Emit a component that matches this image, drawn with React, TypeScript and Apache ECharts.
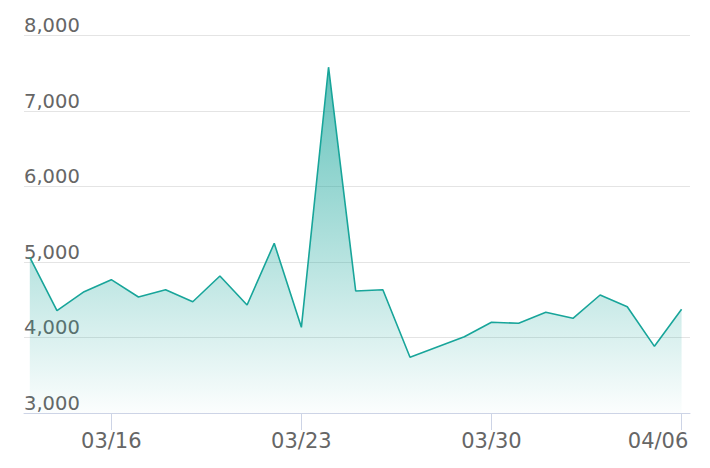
import React, { useEffect, useRef } from "react";
import * as echarts from "echarts";

const dates: string[] = [
  "03/13", "03/14", "03/15", "03/16", "03/17", "03/18", "03/19", "03/20",
  "03/21", "03/22", "03/23", "03/24", "03/25", "03/26", "03/27", "03/28",
  "03/29", "03/30", "03/31", "04/01", "04/02", "04/03", "04/04", "04/05", "04/06",
];

const values: number[] = [
  5060, 4355, 4607, 4766, 4536, 4633, 4474, 4815,
  4430, 5248, 4135, 7580, 4616, 4633, 3738, 3874,
  4010, 4201, 4188, 4334, 4254, 4563, 4408, 3883, 4373,
];

const labelDates: string[] = ["03/16", "03/23", "03/30", "04/06"];

const yMin = 3000;
const yMax = 8000;
const yInterval = 1000;

export default function App() {
  const ref = useRef<HTMLDivElement>(null);

  useEffect(() => {
    if (!ref.current) return;
    const chart = echarts.init(ref.current, null, { renderer: "svg" });
    const tickIdx = labelDates.map((d) => dates.indexOf(d));
    const lastIdx = tickIdx[tickIdx.length - 1];
    chart.setOption({
      animation: false,
      grid: {
        left: 24,
        right: 20,
        top: 35.5,
        bottom: 55,
        containLabel: false,
        outerBoundsMode: "none",
      },
      xAxis: {
        type: "value",
        min: -0.214,
        max: 24.31,
        splitLine: { show: false },
        axisLine: { show: true, lineStyle: { color: "#cdd4e6", width: 1 } },
        axisTick: {
          show: true,
          length: 17,
          customValues: tickIdx,
          lineStyle: { color: "#cdd4e6", width: 1 },
        },
        axisLabel: {
          customValues: tickIdx,
          formatter: (v: number) => {
            const i = Math.round(v);
            const s = dates[i] ?? "";
            return i === lastIdx ? `{last|${s}}` : s;
          },
          color: "#666",
          fontFamily: "DejaVu Sans",
          fontSize: 21,
          margin: 17,
          hideOverlap: false,
          rich: {
            last: {
              color: "#666",
              fontFamily: "DejaVu Sans",
              fontSize: 21,
              padding: [0, 47, 0, 0],
            },
          },
        },
      },
      yAxis: {
        type: "value",
        min: yMin,
        max: yMax,
        interval: yInterval,
        axisLine: { show: false },
        axisTick: { show: false },
        splitLine: { lineStyle: { color: "#e4e4e4", width: 1 } },
        axisLabel: {
          inside: true,
          margin: 0,
          verticalAlign: "bottom",
          align: "left",
          color: "#666",
          fontFamily: "DejaVu Sans",
          fontSize: 19.5,
          padding: [0, 0, 0, 0],
        },
      },
      series: [
        {
          type: "line",
          data: values.map((v, i) => [i, v]),
          symbol: "none",
          lineStyle: { color: "#18a59a", width: 1.6 },
          areaStyle: {
            color: new echarts.graphic.LinearGradient(0, 0, 0, 1, [
              { offset: 0, color: "rgba(23,165,154,0.97)" },
              { offset: 1, color: "rgba(23,165,154,0.02)" },
            ]),
          },
        },
      ],
    });
    return () => chart.dispose();
  }, []);

  return (
    <div
      ref={ref}
      style={{ position: "fixed", left: 0, top: 0, width: 710, height: 468, background: "#fff" }}
    />
  );
}
